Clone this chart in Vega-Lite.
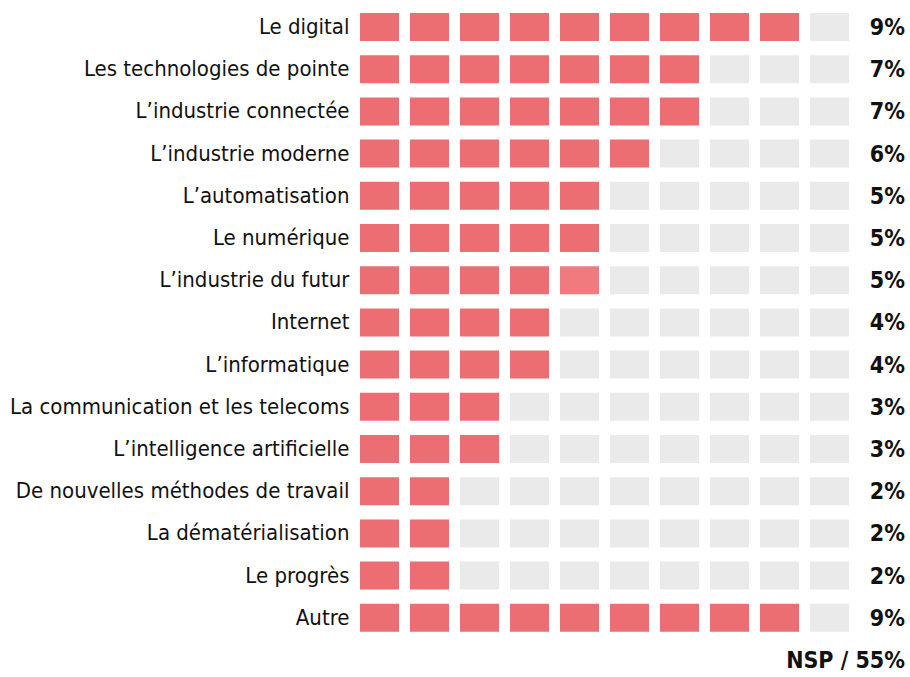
{
  "$schema": "https://vega.github.io/schema/vega-lite/v6.json",
  "width": 539,
  "height": 661,
  "autosize": {"type": "none"},
  "padding": {"left": 360, "top": 13, "right": 11, "bottom": 3},
  "background": "#ffffff",
  "config": {"view": {"stroke": null}},
  "datasets": {
    "totaux": [
      {"r": "Le digital", "t": "9%"},
      {"r": "Les technologies de pointe", "t": "7%"},
      {"r": "L’industrie connectée", "t": "7%"},
      {"r": "L’industrie moderne", "t": "6%"},
      {"r": "L’automatisation", "t": "5%"},
      {"r": "Le numérique", "t": "5%"},
      {"r": "L’industrie du futur", "t": "5%"},
      {"r": "Internet", "t": "4%"},
      {"r": "L’informatique", "t": "4%"},
      {"r": "La communication et les telecoms", "t": "3%"},
      {"r": "L’intelligence artificielle", "t": "3%"},
      {"r": "De nouvelles méthodes de travail", "t": "2%"},
      {"r": "La dématérialisation", "t": "2%"},
      {"r": "Le progrès", "t": "2%"},
      {"r": "Autre", "t": "9%"},
      {"r": "NSP", "t": "NSP / 55%"}
    ],
    "cases": [
      {"r": "Le digital", "i": 1, "s": "plein"}, {"r": "Le digital", "i": 2, "s": "plein"}, {"r": "Le digital", "i": 3, "s": "plein"}, {"r": "Le digital", "i": 4, "s": "plein"}, {"r": "Le digital", "i": 5, "s": "plein"}, {"r": "Le digital", "i": 6, "s": "plein"}, {"r": "Le digital", "i": 7, "s": "plein"}, {"r": "Le digital", "i": 8, "s": "plein"}, {"r": "Le digital", "i": 9, "s": "plein"}, {"r": "Le digital", "i": 10, "s": "vide"},
      {"r": "Les technologies de pointe", "i": 1, "s": "plein"}, {"r": "Les technologies de pointe", "i": 2, "s": "plein"}, {"r": "Les technologies de pointe", "i": 3, "s": "plein"}, {"r": "Les technologies de pointe", "i": 4, "s": "plein"}, {"r": "Les technologies de pointe", "i": 5, "s": "plein"}, {"r": "Les technologies de pointe", "i": 6, "s": "plein"}, {"r": "Les technologies de pointe", "i": 7, "s": "plein"}, {"r": "Les technologies de pointe", "i": 8, "s": "vide"}, {"r": "Les technologies de pointe", "i": 9, "s": "vide"}, {"r": "Les technologies de pointe", "i": 10, "s": "vide"},
      {"r": "L’industrie connectée", "i": 1, "s": "plein"}, {"r": "L’industrie connectée", "i": 2, "s": "plein"}, {"r": "L’industrie connectée", "i": 3, "s": "plein"}, {"r": "L’industrie connectée", "i": 4, "s": "plein"}, {"r": "L’industrie connectée", "i": 5, "s": "plein"}, {"r": "L’industrie connectée", "i": 6, "s": "plein"}, {"r": "L’industrie connectée", "i": 7, "s": "plein"}, {"r": "L’industrie connectée", "i": 8, "s": "vide"}, {"r": "L’industrie connectée", "i": 9, "s": "vide"}, {"r": "L’industrie connectée", "i": 10, "s": "vide"},
      {"r": "L’industrie moderne", "i": 1, "s": "plein"}, {"r": "L’industrie moderne", "i": 2, "s": "plein"}, {"r": "L’industrie moderne", "i": 3, "s": "plein"}, {"r": "L’industrie moderne", "i": 4, "s": "plein"}, {"r": "L’industrie moderne", "i": 5, "s": "plein"}, {"r": "L’industrie moderne", "i": 6, "s": "plein"}, {"r": "L’industrie moderne", "i": 7, "s": "vide"}, {"r": "L’industrie moderne", "i": 8, "s": "vide"}, {"r": "L’industrie moderne", "i": 9, "s": "vide"}, {"r": "L’industrie moderne", "i": 10, "s": "vide"},
      {"r": "L’automatisation", "i": 1, "s": "plein"}, {"r": "L’automatisation", "i": 2, "s": "plein"}, {"r": "L’automatisation", "i": 3, "s": "plein"}, {"r": "L’automatisation", "i": 4, "s": "plein"}, {"r": "L’automatisation", "i": 5, "s": "plein"}, {"r": "L’automatisation", "i": 6, "s": "vide"}, {"r": "L’automatisation", "i": 7, "s": "vide"}, {"r": "L’automatisation", "i": 8, "s": "vide"}, {"r": "L’automatisation", "i": 9, "s": "vide"}, {"r": "L’automatisation", "i": 10, "s": "vide"},
      {"r": "Le numérique", "i": 1, "s": "plein"}, {"r": "Le numérique", "i": 2, "s": "plein"}, {"r": "Le numérique", "i": 3, "s": "plein"}, {"r": "Le numérique", "i": 4, "s": "plein"}, {"r": "Le numérique", "i": 5, "s": "plein"}, {"r": "Le numérique", "i": 6, "s": "vide"}, {"r": "Le numérique", "i": 7, "s": "vide"}, {"r": "Le numérique", "i": 8, "s": "vide"}, {"r": "Le numérique", "i": 9, "s": "vide"}, {"r": "Le numérique", "i": 10, "s": "vide"},
      {"r": "L’industrie du futur", "i": 1, "s": "plein"}, {"r": "L’industrie du futur", "i": 2, "s": "plein"}, {"r": "L’industrie du futur", "i": 3, "s": "plein"}, {"r": "L’industrie du futur", "i": 4, "s": "plein"}, {"r": "L’industrie du futur", "i": 5, "s": "partiel"}, {"r": "L’industrie du futur", "i": 6, "s": "vide"}, {"r": "L’industrie du futur", "i": 7, "s": "vide"}, {"r": "L’industrie du futur", "i": 8, "s": "vide"}, {"r": "L’industrie du futur", "i": 9, "s": "vide"}, {"r": "L’industrie du futur", "i": 10, "s": "vide"},
      {"r": "Internet", "i": 1, "s": "plein"}, {"r": "Internet", "i": 2, "s": "plein"}, {"r": "Internet", "i": 3, "s": "plein"}, {"r": "Internet", "i": 4, "s": "plein"}, {"r": "Internet", "i": 5, "s": "vide"}, {"r": "Internet", "i": 6, "s": "vide"}, {"r": "Internet", "i": 7, "s": "vide"}, {"r": "Internet", "i": 8, "s": "vide"}, {"r": "Internet", "i": 9, "s": "vide"}, {"r": "Internet", "i": 10, "s": "vide"},
      {"r": "L’informatique", "i": 1, "s": "plein"}, {"r": "L’informatique", "i": 2, "s": "plein"}, {"r": "L’informatique", "i": 3, "s": "plein"}, {"r": "L’informatique", "i": 4, "s": "plein"}, {"r": "L’informatique", "i": 5, "s": "vide"}, {"r": "L’informatique", "i": 6, "s": "vide"}, {"r": "L’informatique", "i": 7, "s": "vide"}, {"r": "L’informatique", "i": 8, "s": "vide"}, {"r": "L’informatique", "i": 9, "s": "vide"}, {"r": "L’informatique", "i": 10, "s": "vide"},
      {"r": "La communication et les telecoms", "i": 1, "s": "plein"}, {"r": "La communication et les telecoms", "i": 2, "s": "plein"}, {"r": "La communication et les telecoms", "i": 3, "s": "plein"}, {"r": "La communication et les telecoms", "i": 4, "s": "vide"}, {"r": "La communication et les telecoms", "i": 5, "s": "vide"}, {"r": "La communication et les telecoms", "i": 6, "s": "vide"}, {"r": "La communication et les telecoms", "i": 7, "s": "vide"}, {"r": "La communication et les telecoms", "i": 8, "s": "vide"}, {"r": "La communication et les telecoms", "i": 9, "s": "vide"}, {"r": "La communication et les telecoms", "i": 10, "s": "vide"},
      {"r": "L’intelligence artificielle", "i": 1, "s": "plein"}, {"r": "L’intelligence artificielle", "i": 2, "s": "plein"}, {"r": "L’intelligence artificielle", "i": 3, "s": "plein"}, {"r": "L’intelligence artificielle", "i": 4, "s": "vide"}, {"r": "L’intelligence artificielle", "i": 5, "s": "vide"}, {"r": "L’intelligence artificielle", "i": 6, "s": "vide"}, {"r": "L’intelligence artificielle", "i": 7, "s": "vide"}, {"r": "L’intelligence artificielle", "i": 8, "s": "vide"}, {"r": "L’intelligence artificielle", "i": 9, "s": "vide"}, {"r": "L’intelligence artificielle", "i": 10, "s": "vide"},
      {"r": "De nouvelles méthodes de travail", "i": 1, "s": "plein"}, {"r": "De nouvelles méthodes de travail", "i": 2, "s": "plein"}, {"r": "De nouvelles méthodes de travail", "i": 3, "s": "vide"}, {"r": "De nouvelles méthodes de travail", "i": 4, "s": "vide"}, {"r": "De nouvelles méthodes de travail", "i": 5, "s": "vide"}, {"r": "De nouvelles méthodes de travail", "i": 6, "s": "vide"}, {"r": "De nouvelles méthodes de travail", "i": 7, "s": "vide"}, {"r": "De nouvelles méthodes de travail", "i": 8, "s": "vide"}, {"r": "De nouvelles méthodes de travail", "i": 9, "s": "vide"}, {"r": "De nouvelles méthodes de travail", "i": 10, "s": "vide"},
      {"r": "La dématérialisation", "i": 1, "s": "plein"}, {"r": "La dématérialisation", "i": 2, "s": "plein"}, {"r": "La dématérialisation", "i": 3, "s": "vide"}, {"r": "La dématérialisation", "i": 4, "s": "vide"}, {"r": "La dématérialisation", "i": 5, "s": "vide"}, {"r": "La dématérialisation", "i": 6, "s": "vide"}, {"r": "La dématérialisation", "i": 7, "s": "vide"}, {"r": "La dématérialisation", "i": 8, "s": "vide"}, {"r": "La dématérialisation", "i": 9, "s": "vide"}, {"r": "La dématérialisation", "i": 10, "s": "vide"},
      {"r": "Le progrès", "i": 1, "s": "plein"}, {"r": "Le progrès", "i": 2, "s": "plein"}, {"r": "Le progrès", "i": 3, "s": "vide"}, {"r": "Le progrès", "i": 4, "s": "vide"}, {"r": "Le progrès", "i": 5, "s": "vide"}, {"r": "Le progrès", "i": 6, "s": "vide"}, {"r": "Le progrès", "i": 7, "s": "vide"}, {"r": "Le progrès", "i": 8, "s": "vide"}, {"r": "Le progrès", "i": 9, "s": "vide"}, {"r": "Le progrès", "i": 10, "s": "vide"},
      {"r": "Autre", "i": 1, "s": "plein"}, {"r": "Autre", "i": 2, "s": "plein"}, {"r": "Autre", "i": 3, "s": "plein"}, {"r": "Autre", "i": 4, "s": "plein"}, {"r": "Autre", "i": 5, "s": "plein"}, {"r": "Autre", "i": 6, "s": "plein"}, {"r": "Autre", "i": 7, "s": "plein"}, {"r": "Autre", "i": 8, "s": "plein"}, {"r": "Autre", "i": 9, "s": "plein"}, {"r": "Autre", "i": 10, "s": "vide"}
    ]
  },
  "layer": [
    {
      "data": {"name": "cases"},
      "mark": {"type": "rect"},
      "encoding": {
        "x": {"field": "i", "type": "ordinal", "axis": null,
              "scale": {"domain": [1, 2, 3, 4, 5, 6, 7, 8, 9, 10, 11], "paddingInner": 0.22, "paddingOuter": 0}},
        "y": {"field": "r", "type": "nominal",
              "scale": {"domain": ["Le digital", "Les technologies de pointe", "L’industrie connectée", "L’industrie moderne", "L’automatisation", "Le numérique", "L’industrie du futur", "Internet", "L’informatique", "La communication et les telecoms", "L’intelligence artificielle", "De nouvelles méthodes de travail", "La dématérialisation", "Le progrès", "Autre", "NSP"], "paddingInner": 0.3367, "paddingOuter": 0},
              "axis": {"title": null, "domain": false, "ticks": false, "labelPadding": 11, "labelLimit": 0,
                       "labelFont": "DejaVu Sans Condensed, Roboto Condensed, Liberation Sans Narrow, Roboto", "labelFontSize": 22, "labelColor": "#111111",
                       "labelExpr": "datum.value == 'NSP' ? '' : datum.value"}},
        "color": {"field": "s", "type": "nominal", "legend": null,
                  "scale": {"domain": ["plein", "partiel", "vide"], "range": ["#ED6E72", "#F07A7E", "#EAEAEA"]}}
      }
    },
    {
      "data": {"name": "totaux"},
      "mark": {"type": "text", "align": "right", "baseline": "middle", "dx": 6, "dy": 1, "font": "DejaVu Sans Condensed, Roboto Condensed, Liberation Sans Narrow, Roboto", "fontWeight": "bold", "fontSize": 23, "color": "#111111"},
      "encoding": {
        "x": {"datum": 11, "type": "ordinal", "bandPosition": 1},
        "y": {"field": "r", "type": "nominal"},
        "text": {"field": "t", "type": "nominal"}
      }
    }
  ]
}
